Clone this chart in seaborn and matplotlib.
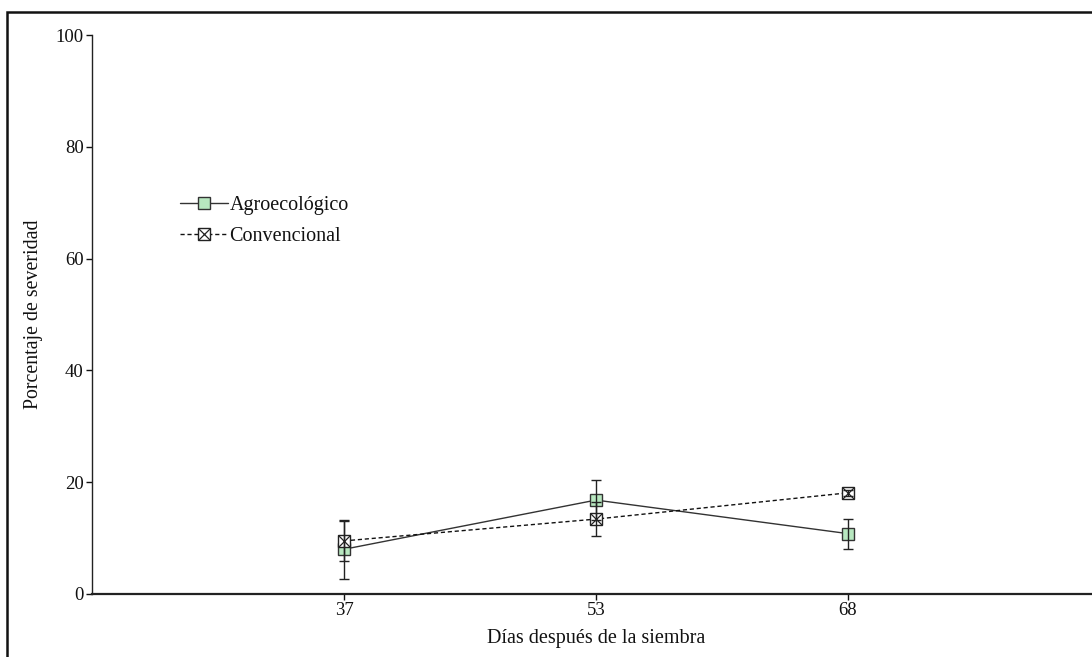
import matplotlib
matplotlib.use("Agg")
import matplotlib.pyplot as plt
import seaborn as sns
import pandas as pd
import numpy as np
from matplotlib.lines import Line2D
from matplotlib.patches import Rectangle
from matplotlib.legend_handler import HandlerTuple

# Severity data by days after sowing
dias = ["37", "53", "68"]
agro = [8.0, 16.8, 10.8]
agro_err = [5.3, 3.6, 2.7]
conv = [9.5, 13.4, 18.1]
conv_err = [3.6, 3.0, 0.5]
series = ["Agroecológico", "Convencional"]

sns.set_theme(style="white")
plt.rcParams["font.family"] = ["Liberation Serif", "DejaVu Serif"]
plt.rcParams["text.color"] = "#111111"
plt.rcParams["axes.labelcolor"] = "#111111"
plt.rcParams["xtick.color"] = "#111111"
plt.rcParams["ytick.color"] = "#111111"

df = pd.DataFrame({
    "dias": dias * 2,
    "serie": [series[0]] * 3 + [series[1]] * 3,
    "severidad": agro + conv,
})

fig = plt.figure(figsize=(10.92, 6.57), dpi=100)
ax = fig.add_axes([92 / 1092, 1 - 594 / 657, 1008 / 1092, (594 - 35) / 657])

sns.lineplot(data=df, x="dias", y="severidad", hue="serie", style="serie",
             palette={series[0]: "#333333", series[1]: "#111111"},
             dashes={series[0]: "", series[1]: (3, 2)},
             linewidth=1.0, legend=False, ax=ax, sort=False)

xpos = np.arange(len(dias))
# Agroecológico markers
ax.plot(xpos, agro, linestyle="none", marker="s", markersize=8.5,
        markerfacecolor="#b8e8c0", markeredgecolor="#333333",
        markeredgewidth=1.0, zorder=3)
# Convencional markers: boxed cross
ax.plot(xpos, conv, linestyle="none", marker="s", markersize=8.5,
        markerfacecolor="white", markeredgecolor="#222222",
        markeredgewidth=1.0, zorder=4)
ax.plot(xpos, conv, linestyle="none", marker="x", markersize=8.5,
        markeredgecolor="#222222", markeredgewidth=0.9, zorder=4)

# Error bars
ax.errorbar(xpos, agro, yerr=agro_err, fmt="none", ecolor="#222222",
            elinewidth=1.0, capsize=3.8, capthick=1.0, zorder=5)
ax.errorbar(xpos, conv, yerr=conv_err, fmt="none", ecolor="#222222",
            elinewidth=1.0, capsize=3.8, capthick=1.0, zorder=5)

ax.set_xlim(-1, 3)
ax.set_ylim(0, 100)
ax.set_yticks([0, 20, 40, 60, 80, 100])
ax.set_xticks(xpos)
ax.set_xticklabels(dias)
ax.tick_params(axis="both", labelsize=13.5, length=4, width=1.0,
               direction="out", pad=2, left=True, bottom=True)
ax.set_xlabel("Días después de la siembra", fontsize=14.5, labelpad=7)
ax.set_ylabel("Porcentaje de severidad", fontsize=14.3, labelpad=9)

for side in ["top", "right"]:
    ax.spines[side].set_visible(False)
ax.spines["left"].set_color("#222222")
ax.spines["left"].set_linewidth(1.0)
ax.spines["bottom"].set_color("#222222")
ax.spines["bottom"].set_linewidth(1.6)

h_agro = Line2D([], [], color="#333333", linewidth=1.0, marker="s",
                markersize=8.5, markerfacecolor="#b8e8c0",
                markeredgecolor="#333333")
h_conv_box = Line2D([], [], color="#111111", linewidth=1.0,
                    linestyle=(0, (3, 2)), marker="s", markersize=8.5,
                    markerfacecolor="white", markeredgecolor="#222222")
h_conv_x = Line2D([], [], linestyle="none", marker="x", markersize=8.5,
                  markeredgecolor="#222222", markeredgewidth=0.9)
leg = ax.legend([h_agro, (h_conv_box, h_conv_x)], series,
                handler_map={tuple: HandlerTuple(ndivide=1)},
                loc="upper left", bbox_to_anchor=((180 - 92) / 1008, (594 - 196) / 559),
                frameon=False, fontsize=14.5, handlelength=2.4, handletextpad=0.05,
                labelspacing=0.6, borderpad=0, borderaxespad=0)

# Outer frame around the figure
fig.patches.append(Rectangle((7 / 1092, -0.05), 1.2, 1 - 12 / 657 + 0.05,
                             transform=fig.transFigure, fill=False,
                             edgecolor="#111111", linewidth=1.8, zorder=0))

fig.savefig("out.png", dpi=100)
